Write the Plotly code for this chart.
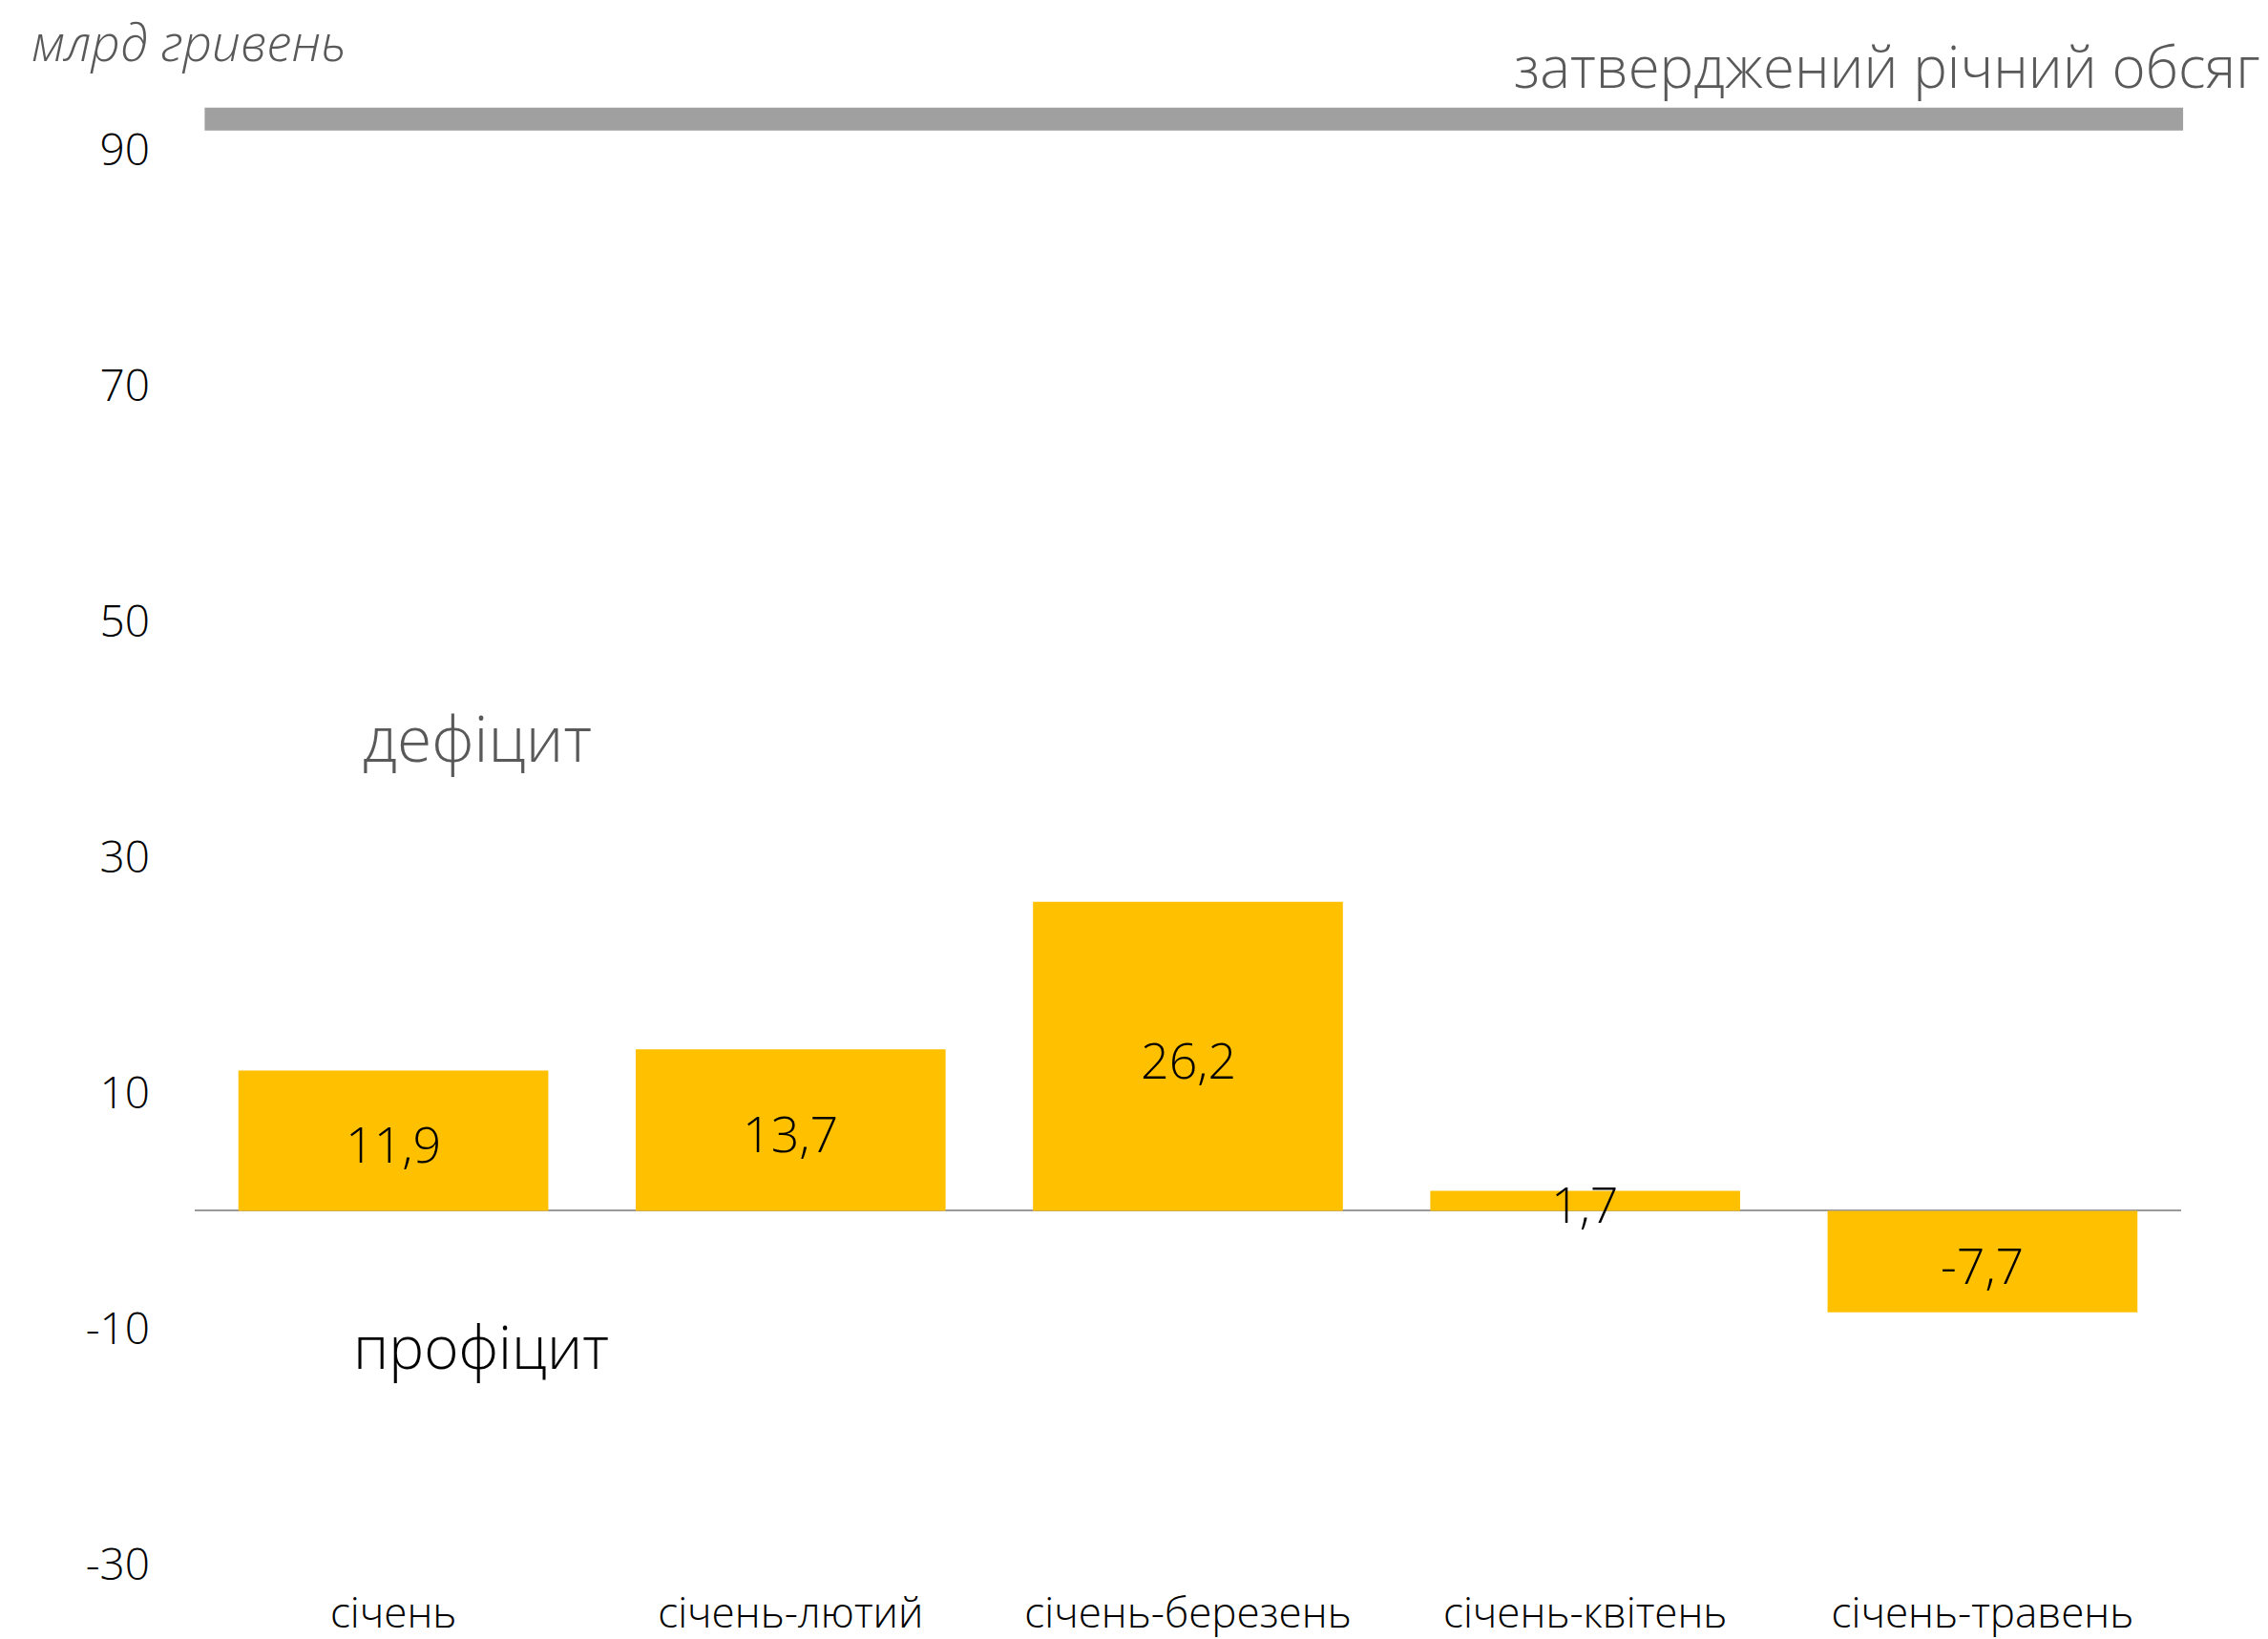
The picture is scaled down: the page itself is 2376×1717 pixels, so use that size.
import plotly.graph_objects as go

categories = ["січень", "січень-лютий", "січень-березень", "січень-квітень", "січень-травень"]
# bar lengths as drawn in the picture
values = [11.9, 13.7, 26.2, 1.7, -8.6]
# data labels as printed on the bars
value_labels = ["11,9", "13,7", "26,2", "1,7", "-7,7"]
approved_annual = 92.6
ytick_vals = [-30, -10, 10, 30, 50, 70, 90]
ytick_text = ["-30", "-10", "10", "30", "50", "70", "90"]

FONT = "Open Sans"
W = 300

fig = go.Figure()
fig.add_trace(go.Bar(
    x=list(range(len(categories))), y=values,
    marker=dict(color="#FFC000", line=dict(width=0)),
    width=0.78, hoverinfo="skip", showlegend=False,
))
for i, (v, t) in enumerate(zip(values, value_labels)):
    fig.add_annotation(text=t, xref="x", yref="y", x=i, y=v / 2, yshift=-3,
                       showarrow=False,
                       font=dict(family=FONT, size=52, color="#000000", weight=W))

# approved annual volume line
fig.add_shape(type="line", xref="paper", yref="y", x0=0.005, x1=1.001,
              y0=approved_annual, y1=approved_annual,
              line=dict(color="#A0A0A0", width=24))

fig.add_annotation(text="затверджений річний обсяг", xref="paper", yref="paper",
                   x=1.041, y=1.017, xanchor="right", yanchor="middle", showarrow=False,
                   font=dict(family=FONT, size=60, color="#595959", weight=W))
fig.add_annotation(text="<i>млрд гривень</i>", xref="paper", yref="paper",
                   x=-0.0827, y=1.0335, xanchor="left", yanchor="middle", showarrow=False,
                   borderpad=0,
                   font=dict(family=FONT, size=53, color="#595959", weight=W))
fig.add_annotation(text="дефіцит", xref="x", yref="y", x=0.21, y=40.2,
                   showarrow=False, font=dict(family=FONT, size=66, color="#595959", weight=W))
fig.add_annotation(text="профіцит", xref="x", yref="y", x=0.22, y=-11.5,
                   showarrow=False, font=dict(family=FONT, size=62, color="#000000", weight=W))

fig.update_layout(
    width=2376, height=1717,
    margin=dict(l=196, r=99, t=87, b=86, autoexpand=False),
    plot_bgcolor="white", paper_bgcolor="white",
    xaxis=dict(range=[-0.5, 4.5], tickvals=list(range(len(categories))), ticktext=categories,
               showgrid=False, zeroline=False, showline=False, ticks="",
               tickfont=dict(family=FONT, size=44, color="#000000", weight=W),
               ticklabelstandoff=21),
    yaxis=dict(range=[-30, 95], tickvals=ytick_vals, ticktext=ytick_text,
               showgrid=False, zeroline=True, zerolinecolor="#9A9A9A", zerolinewidth=2,
               showline=False, ticks="",
               tickfont=dict(family=FONT, size=46, color="#000000", weight=W),
               ticklabelstandoff=46),
)
fig.write_html("out.html")
